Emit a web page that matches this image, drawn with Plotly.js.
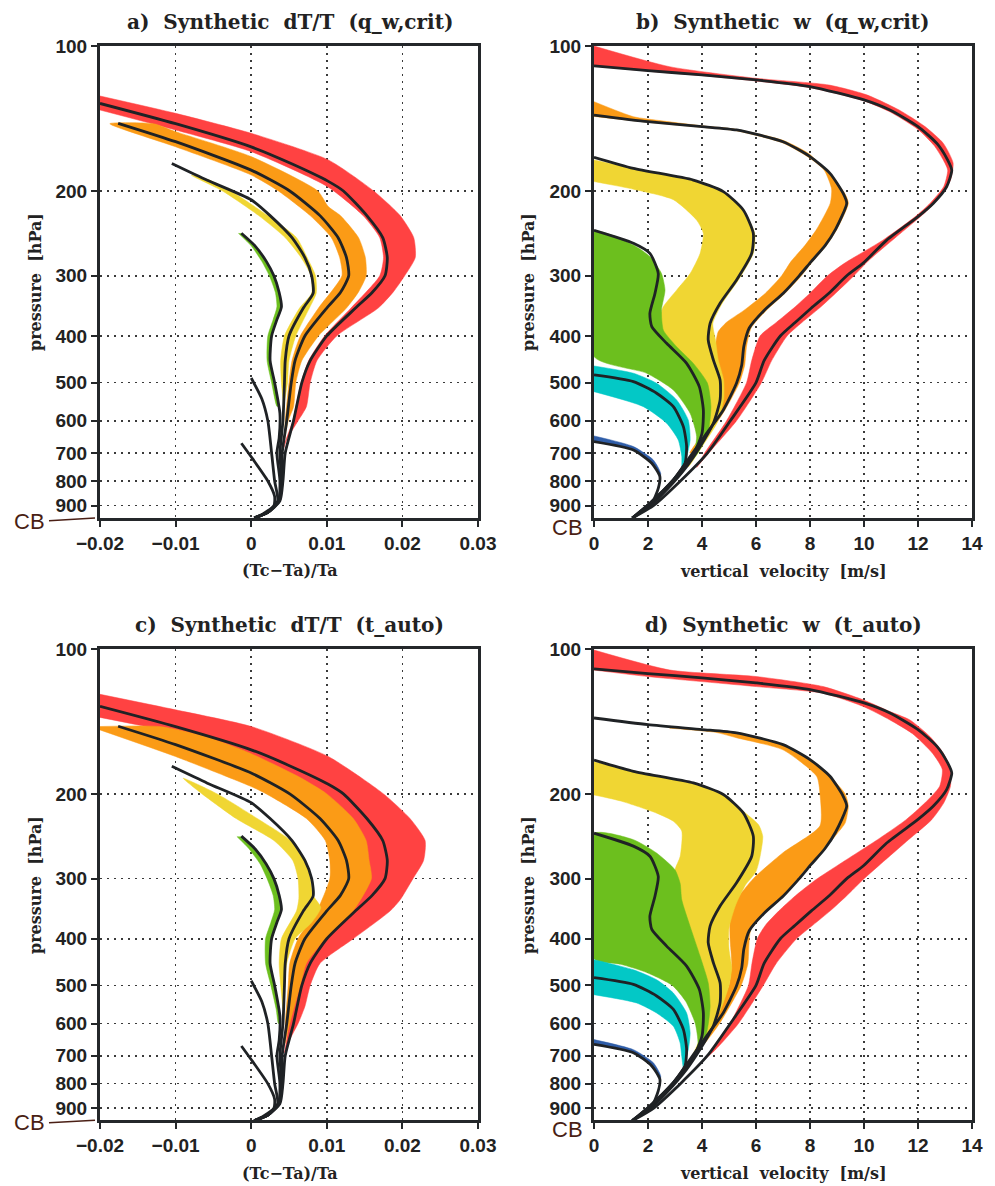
<!DOCTYPE html>
<html>
<head>
<meta charset="utf-8">
<script src="https://cdn.plot.ly/plotly-3.0.1.min.js"></script>
<style>html,body{margin:0;padding:0;background:#fff;}#chart{width:995px;height:1186px;}</style>
</head>
<body>
<div id="chart"></div>
<script>
// ---------- DATA: [pressure hPa, value] pairs ----------
// Axis ticks
const pressureTicks = [100, 200, 300, 400, 500, 600, 700, 800, 900];
const dtTickVals = [-0.02, -0.01, 0, 0.01, 0.02, 0.03];
const dtTickText = ['\u22120.02', '\u22120.01', '0', '0.01', '0.02', '0.03'];
const wTickVals = [0, 2, 4, 6, 8, 10, 12, 14];
const wTickText = ['0', '2', '4', '6', '8', '10', '12', '14'];

// dT/T black lines (panels a and c)
const dtLineRed = [[131.6,-0.020],[145,-0.010],[162,0.000],[176,0.0055],[191,0.0102],[200,0.0122],[225,0.0153],[250,0.0174],[275,0.0180],[300,0.0177],[325,0.0160],[350,0.0138],[400,0.0100],[450,0.0078],[500,0.0067],[600,0.0056],[700,0.0045],[800,0.0042],[880,0.0038],[930,0.0022],[955,0.0004]];
const dtLineOrange = [[144.7,-0.0176],[158,-0.0100],[181,0.0000],[200,0.0051],[225,0.0091],[250,0.0115],[275,0.0126],[300,0.0129],[325,0.0118],[350,0.0100],[400,0.0071],[450,0.0058],[500,0.0053],[600,0.0047],[700,0.0041],[800,0.0041],[880,0.0037],[930,0.0022],[955,0.0004]];
const dtLineYellow = [[175.3,-0.0105],[190,-0.0058],[208.6,0.0000],[225,0.0025],[250,0.0054],[275,0.0071],[300,0.0080],[326,0.0082],[350,0.0069],[400,0.0050],[450,0.0045],[500,0.0044],[600,0.0042],[700,0.0038],[800,0.0040],[880,0.0037],[930,0.0022],[955,0.0004]];
const dtLineGreen = [[244.8,-0.0013],[260,0.0005],[280,0.0020],[300,0.0030],[325,0.0037],[348,0.0040],[370,0.0034],[400,0.0027],[450,0.0025],[500,0.0031],[580,0.0038],[650,0.0037],[700,0.0034],[800,0.0038],[880,0.0036],[930,0.0022],[955,0.0004]];
const dtLineCyan = [[489,0.0000],[540,0.0014],[600,0.0022],[700,0.0027],[800,0.0031],[880,0.0035],[930,0.0022],[955,0.0004]];
const dtLineBlue = [[668,-0.0013],[720,0.0002],[800,0.0022],[862,0.0031],[900,0.0030],[935,0.0016],[955,0.0004]];

// Panel a bands
const aRedOuter = [[127,-0.020],[138,-0.010],[151.8,0.000],[172.4,0.0102],[200,0.0162],[225,0.0197],[250,0.0215],[275,0.0217],[300,0.0203],[324,0.0188],[350,0.0168],[400,0.0113],[450,0.0087],[500,0.0078],[561,0.0073],[600,0.0062],[657,0.0047],[690,0.0042]];
const aRedInner = [[135.8,-0.020],[149.4,-0.010],[165.7,0.000],[195.9,0.0101],[225,0.0148],[250,0.0170],[275,0.0175],[300,0.0170],[350,0.0132],[400,0.0097],[450,0.0076],[500,0.0066],[600,0.0055],[657,0.0046],[690,0.0042]];
const aOrangeOuter = [[145,-0.0187],[145,-0.0129],[150.6,-0.010],[169.7,0.000],[200,0.0088],[215.5,0.0102],[225,0.0118],[250,0.0142],[275,0.0151],[300,0.0152],[324,0.0142],[350,0.0126],[400,0.0089],[450,0.0067],[500,0.0059],[561,0.0056],[600,0.0049],[657,0.0044]];
const aOrangeInner = [[145,-0.0187],[161.9,-0.010],[185.3,0.000],[200,0.0036],[225,0.0078],[250,0.0106],[275,0.0117],[300,0.0120],[350,0.0089],[400,0.0065],[450,0.0054],[500,0.0050],[600,0.0045],[657,0.0044]];
const aYellowOuter = [[185.6,-0.0079],[190,-0.0055],[200,-0.0027],[225,0.0022],[250,0.0060],[275,0.0074],[300,0.0085],[326,0.0086],[350,0.0077],[400,0.0059],[450,0.0050],[500,0.0048],[560,0.0043]];
const aYellowInner = [[185.6,-0.0079],[200,-0.0038],[225,0.0010],[250,0.0045],[275,0.0066],[300,0.0079],[326,0.0080],[350,0.0064],[400,0.0044],[450,0.0039],[500,0.0040],[560,0.0043]];
const aGreenOuter = [[244.8,-0.0017],[260,0.0000],[280,0.0014],[300,0.0024],[325,0.0032],[348,0.0034],[370,0.0029],[400,0.0022],[450,0.0021],[500,0.0027],[560,0.0034]];
const aGreenInner = [[244.8,-0.0013],[260,0.0005],[280,0.0020],[300,0.0030],[325,0.0037],[348,0.0040],[370,0.0034],[400,0.0027],[450,0.0025],[500,0.0031],[560,0.0036]];

// Panel c bands
const cRedOuter = [[124.2,-0.020],[133.8,-0.010],[144.9,0.000],[167.3,0.0102],[200,0.0175],[225,0.0210],[250,0.0230],[275,0.0228],[300,0.0214],[332,0.0197],[350,0.0184],[400,0.0135],[450,0.0091],[500,0.0078],[553,0.0071],[600,0.0062],[648,0.0051],[690,0.0044]];
const cRedInner = [[138.7,-0.020],[147,-0.012],[155,-0.006],[168,0.000],[190,0.0065],[205,0.0100],[230,0.0135],[250,0.0145],[275,0.0150],[300,0.0152],[350,0.0130],[400,0.0093],[450,0.0070],[500,0.0063],[600,0.0050],[648,0.0047],[690,0.0044]];
const cOrangeOuter = [[144.9,-0.020],[144.9,-0.0121],[152,-0.006],[165,0.000],[185,0.0065],[200,0.0100],[225,0.0135],[250,0.0152],[275,0.0156],[300,0.0159],[350,0.0135],[400,0.0098],[450,0.0073],[500,0.0065],[600,0.0051],[660,0.0045]];
const cOrangeInner = [[147.3,-0.020],[167.3,-0.010],[193.1,0.000],[200,0.0020],[225,0.0073],[250,0.0098],[275,0.0104],[300,0.0104],[350,0.0087],[400,0.0062],[450,0.0051],[500,0.0049],[600,0.0045],[660,0.0045]];
const cYellowOuter = [[185.6,-0.0090],[200,-0.0045],[225,0.0008],[250,0.0052],[275,0.0072],[300,0.0078],[325,0.0082],[345,0.0092],[370,0.0080],[400,0.0058],[450,0.0047],[500,0.0044],[560,0.0042]];
const cYellowInner = [[185.6,-0.0090],[200,-0.0065],[225,-0.0020],[250,0.0030],[275,0.0055],[300,0.0062],[330,0.0063],[350,0.0060],[400,0.0040],[450,0.0037],[500,0.0039],[560,0.0042]];
const cGreenOuter = [[245.3,-0.0019],[260,-0.0003],[280,0.0012],[300,0.0021],[325,0.0029],[348,0.0031],[370,0.0026],[400,0.0019],[450,0.0019],[500,0.0026],[560,0.0033],[600,0.0036]];
const cGreenInner = [[245.3,-0.0014],[260,0.0005],[280,0.0020],[300,0.0030],[325,0.0037],[348,0.0040],[370,0.0034],[400,0.0027],[450,0.0025],[500,0.0031],[560,0.0036],[600,0.0038]];

// w black lines (panels b and d), m/s
const wLineRed = [[110,0],[112.5,2],[114.8,4],[117.6,6],[121.4,8],[129.4,10],[135.8,10.96],[147,12],[159.3,12.7],[172.5,13.1],[181,13.25],[196,13.06],[212,12.57],[226,12.0],[253,10.84],[282,9.98],[300,9.36],[326,8.7],[350,8.05],[375,7.45],[400,6.9],[450,6.3],[500,6.0],[600,5.05],[700,4.2],[800,3.2],[900,2.2],[955,1.42]];
const wLineOrange = [[139.1,0],[143.6,2],[147,4],[149.4,5.28],[158,7.0],[169.7,8.0],[183.8,8.74],[202.3,9.23],[212,9.36],[240,8.95],[260,8.55],[280,8.05],[300,7.6],[326,7.01],[354,6.3],[385,5.75],[420,5.55],[460,5.47],[501,5.28],[569.7,4.79],[637,4.17],[712,3.56],[796,2.94],[890,2.07],[955,1.42]];
const wLineYellow = [[170.2,0],[179.5,1.46],[189.8,3.68],[200.6,4.79],[219,5.53],[244.8,5.9],[269.5,5.84],[306,5.28],[342,4.67],[376.5,4.3],[407.6,4.23],[448.5,4.42],[493.6,4.67],[543,4.67],[607,4.42],[678.7,3.93],[747,3.43],[835,2.69],[900,2.1],[955,1.42]];
const wLineGreen = [[241.4,0],[256.8,1.46],[269.5,2.07],[296.8,2.38],[326,2.26],[359,2.07],[382.5,2.14],[414.3,2.69],[455.9,3.43],[509.6,3.9],[569.7,4.05],[637,4.0],[712,3.65],[796,2.94],[890,2.07],[955,1.42]];
const wLineCyan = [[481.9,0],[497.6,1.46],[526,2.32],[560.8,2.94],[617,3.31],[678.7,3.43],[735,3.37],[796,2.94],[869,2.32],[955,1.42]];
const wLineBlue = [[662.9,0],[690,1.46],[735,2.14],[783.5,2.44],[828.6,2.38],[890,2.14],[955,1.42]];

// Panel b bands
const bRedUpper = [[100,0],[110.4,2.8],[116.7,6.0],[120.5,8.7],[126.3,10.1],[135.8,11.3],[147,12.26],[159.3,12.94],[175,13.3],[190,13.2],[206,12.8],[222,12.25],[249,11.2],[278,10.2],[301,9.6],[326,8.95],[350,8.35],[375,7.7],[400,7.15],[450,6.58],[500,6.2],[600,5.28],[700,4.25],[750,3.8]];
const bRedLower = [[110,0],[112.8,2],[115.2,4],[118.2,6],[122,8],[130,10],[137,10.96],[149,12],[161,12.6],[173,12.95],[181,13.1],[196,12.95],[212,12.45],[226,11.9],[253,10.7],[282,9.3],[300,8.65],[326,8.0],[350,7.4],[375,6.75],[400,6.15],[450,5.84],[500,5.65],[600,4.91],[700,4.1],[750,3.8]];
const bOrangeUpper = [[130.5,0],[140.2,1.46],[143,2.5],[146.5,4],[149,5.28],[157,7.0],[168,8.0],[182,8.55],[198,8.8],[212,8.75],[240,8.25],[260,7.8],[280,7.3],[300,6.95],[326,6.35],[354,5.55],[375,4.9],[392,4.6],[420,4.5],[450,4.55],[500,4.7],[570,4.45],[640,4.0],[700,3.55]];
const bOrangeLower = [[140,0],[144,2],[147.5,4],[150,5.28],[159,7.0],[171,8.0],[185,8.74],[202,9.28],[212,9.42],[240,9.0],[260,8.6],[280,8.1],[300,7.68],[326,7.08],[354,6.38],[385,5.82],[420,5.65],[460,5.58],[501,5.38],[570,4.85],[640,4.25],[700,3.6]];
const bYellowUpper = [[172.4,0],[179.5,1.46],[189.8,3.68],[200.6,4.79],[219,5.53],[244.8,5.95],[269.5,5.9],[306,5.35],[342,4.75],[376.5,4.4],[408,4.5],[448,4.6],[494,4.8],[543,4.8],[607,4.55],[679,4.0],[747,3.5]];
const bYellowLower = [[191.2,0],[198.3,1.46],[208.5,2.94],[229.8,3.8],[244.8,4.05],[269.5,3.93],[296.8,3.56],[321.3,3.06],[347.6,2.57],[365,2.45],[390,2.5],[420,2.9],[456,3.5],[500,3.9],[560,4.1],[637,3.95],[700,3.65],[747,3.45]];
const bGreenUpper = [[243,0],[258.9,1.46],[273.7,2.07],[296.8,2.5],[321.3,2.63],[353,2.5],[389,2.57],[421,3.06],[456,3.68],[501,4.2],[561,4.33],[637,4.22],[700,3.85],[740,3.5]];
const bGreenLower = [[243,0],[441.5,0],[478,1.95],[518,2.94],[579,3.56],[647,3.8],[712,3.68],[740,3.5]];
const bCyanUpper = [[461.7,0],[478,1.46],[501.5,2.32],[543,3.06],[597.6,3.49],[657.6,3.56],[712,3.43],[747,3.25]];
const bCyanLower = [[522,0],[560.8,1.83],[607,2.69],[657.6,3.12],[712,3.25],[747,3.25]];
const bBlueUpper = [[645,0],[678.7,1.46],[723.7,2.2],[771,2.47],[808,2.42],[830,2.38]];
const bBlueLower = [[662.9,0],[690,1.46],[735,2.14],[783.5,2.44],[808,2.42],[830,2.38]];

// Panel d bands
const dRedUpper = [[100.5,0],[110.6,2.81],[114.1,6.02],[119.7,8.49],[127.6,9.98],[134.9,10.96],[140.4,11.7],[152,12.44],[164.7,12.94],[178.3,13.2],[193,13.2],[209,12.95],[226.5,12.5],[249,11.65],[274,10.8],[302,9.95],[326,9.35],[350,8.75],[375,8.1],[400,7.5],[450,6.75],[500,6.27],[600,5.35],[680,4.5],[720,4.0]];
const dRedLower = [[110.6,0],[114.1,2.0],[119.7,6.02],[123.6,8.49],[131.7,9.98],[140.4,10.96],[150,11.8],[165,12.55],[178,12.9],[193,12.8],[209,12.25],[226.5,11.55],[249,10.5],[274,9.35],[302,8.2],[326,7.45],[350,6.85],[375,6.35],[400,6.05],[450,5.85],[500,5.72],[600,5.04],[680,4.4],[720,4.0]];
const dOrangeUpper = [[146,2.8],[147.5,4.5],[150,5.3],[158,7.0],[170,8.0],[184,8.74],[200,9.3],[212,9.42],[230,9.3],[242,9.0],[262,8.5],[280,8.0],[302,7.5],[326,7.0],[350,6.4],[385,5.8],[450,5.7],[500,5.45],[600,4.65],[660,4.1],[700,3.7]];
const dOrangeLower = [[146,2.8],[149,4.5],[153,5.3],[162,7.0],[184,8.25],[200,8.37],[233,8.37],[265,7.0],[300,5.9],[330,5.3],[350,5.05],[400,5.04],[450,5.1],[500,5.0],[600,4.3],[660,3.95],[700,3.7]];
const dYellowUpper = [[171.4,0],[179.5,1.46],[189.8,3.68],[200.6,4.79],[219,5.6],[232,6.1],[245,6.25],[270,6.15],[290,6.0],[310,5.6],[340,5.25],[380,5.0],[420,5.0],[460,5.1],[500,5.0],[560,4.7],[620,4.3],[680,3.8],[720,3.5]];
const dYellowLower = [[201,0],[207,1.0],[219.3,2.32],[228,2.94],[238.8,3.25],[269.9,3.19],[287.6,3.0],[320,3.0],[380,3.3],[435,3.7],[494,4.0],[554,4.1],[627,4.0],[689,3.7],[720,3.5]];
const dGreenUpper = [[241.8,0],[249,1.46],[265.5,2.32],[287.6,3.0],[306.8,3.19],[332,3.25],[377,3.56],[435,3.93],[494,4.23],[554,4.3],[627,4.17],[689,3.8],[730,3.4]];
const dGreenLower = [[241.8,0],[440,0],[452,1.0],[470,1.95],[500,2.9],[540,3.4],[600,3.75],[660,3.85],[700,3.7],[730,3.4]];
const dCyanUpper = [[442,0],[464,1.46],[486.7,2.32],[518.6,2.94],[570.6,3.43],[627,3.56],[681,3.49],[740,3.3]];
const dCyanLower = [[522.8,0],[543.9,1.58],[570.6,2.32],[608,2.94],[658.6,3.19],[702,3.25],[740,3.3]];
const dBlueUpper = [[648,0],[680,1.46],[724,2.2],[771,2.47],[808,2.42],[830,2.38]];
const dBlueLower = [[662.9,0],[690,1.46],[735,2.14],[783.5,2.44],[808,2.42],[830,2.38]];

// ---------- STYLE ----------
const COL = {red:'#ff4242', orange:'#fb9b16', yellow:'#f0d633', green:'#6cbf1e', cyan:'#03c8c6', blue:'#2f5da8', line:'#1f2225'};
const A = {x:'x', y:'y'}, B = {x:'x2', y:'y2'}, C = {x:'x3', y:'y3'}, D = {x:'x4', y:'y4'};
const traces = [];

function addBand(e1, e2, color, ax) {
  const poly = e1.concat(e2.slice().reverse());
  traces.push({type:'scatter', mode:'lines', x: poly.map(d => d[1]), y: poly.map(d => d[0]),
    fill:'toself', fillcolor: color, line:{color: color, width:0.5, shape:'spline', smoothing:0.6},
    xaxis: ax.x, yaxis: ax.y, hoverinfo:'skip', showlegend:false});
}
function addLine(arr, ax) {
  traces.push({type:'scatter', mode:'lines', x: arr.map(d => d[1]), y: arr.map(d => d[0]),
    line:{color: COL.line, width:2.8, shape:'spline', smoothing:0.6},
    xaxis: ax.x, yaxis: ax.y, hoverinfo:'skip', showlegend:false});
}

// Panel a
addBand(aRedOuter, aRedInner, COL.red, A);
addBand(aOrangeOuter, aOrangeInner, COL.orange, A);
addBand(aYellowOuter, aYellowInner, COL.yellow, A);
addBand(aGreenOuter, aGreenInner, COL.green, A);
// Panel c
addBand(cRedOuter, cRedInner, COL.red, C);
addBand(cOrangeOuter, cOrangeInner, COL.orange, C);
addBand(cYellowOuter, cYellowInner, COL.yellow, C);
addBand(cGreenOuter, cGreenInner, COL.green, C);
[A, C].forEach(ax => {
  [dtLineBlue, dtLineCyan, dtLineGreen, dtLineYellow, dtLineOrange, dtLineRed].forEach(l => addLine(l, ax));
});
// Panel b
addBand(bRedUpper, bRedLower, COL.red, B);
addBand(bOrangeUpper, bOrangeLower, COL.orange, B);
addBand(bYellowUpper, bYellowLower, COL.yellow, B);
addBand(bGreenUpper, bGreenLower, COL.green, B);
addBand(bCyanUpper, bCyanLower, COL.cyan, B);
addBand(bBlueUpper, bBlueLower, COL.blue, B);
// Panel d
addBand(dRedUpper, dRedLower, COL.red, D);
addBand(dOrangeUpper, dOrangeLower, COL.orange, D);
addBand(dYellowUpper, dYellowLower, COL.yellow, D);
addBand(dGreenUpper, dGreenLower, COL.green, D);
addBand(dCyanUpper, dCyanLower, COL.cyan, D);
addBand(dBlueUpper, dBlueLower, COL.blue, D);
[B, D].forEach(ax => {
  [wLineBlue, wLineCyan, wLineGreen, wLineYellow, wLineOrange, wLineRed].forEach(l => addLine(l, ax));
});

// ---------- LAYOUT ----------
const W = 995, H = 1186;
const px = v => v / W, py = v => 1 - v / H;
const tickFont = {family:'Liberation Sans, Arial, sans-serif', size:19, color:'#222', weight:'bold'};
function xAxis(dom, anchor, dt) {
  return {domain: dom, anchor: anchor, range: dt ? [-0.02, 0.03] : [0, 14],
    tickvals: dt ? dtTickVals : wTickVals, ticktext: dt ? dtTickText : wTickText,
    showgrid:true, gridcolor:'#3a3a3a', gridwidth:1.6, griddash:'2px,5px',
    showline:true, linecolor:'#24272a', linewidth:3, mirror:true,
    ticks:'outside', ticklen:6, tickwidth:2, tickcolor:'#24272a',
    zeroline:false, tickfont: tickFont, fixedrange:true};
}
function yAxis(dom, anchor, bottom) {
  return {domain: dom, anchor: anchor, type:'log', range:[Math.log10(bottom), 2],
    tickvals: pressureTicks, ticktext: pressureTicks.map(String),
    showgrid:true, gridcolor:'#3a3a3a', gridwidth:1.6, griddash:'2px,5px',
    showline:true, linecolor:'#24272a', linewidth:3, mirror:true,
    ticks:'outside', ticklen:6, tickwidth:2, tickcolor:'#24272a',
    zeroline:false, tickfont: tickFont, fixedrange:true};
}
const xL = [px(100), px(478)], xR = [px(594), px(972)];
const yT = [py(518), py(46)], yB = [py(1120), py(649)];

const S = '\u00a0 ';
const titleFont = {family:'DejaVu Serif, serif', size:20, color:'#222'};
const labFont = {family:'DejaVu Serif, serif', size:16, color:'#222'};
const cbFont = {family:'Liberation Sans, Arial, sans-serif', size:22, color:'#4a1f15'};
function ann(x, y, text, font, angle) {
  return {xref:'paper', yref:'paper', x: px(x), y: py(y), text: text, showarrow:false,
    xanchor:'center', yanchor:'middle', font: font, textangle: angle || 0};
}
const annotations = [
  ann(290, 22, '<b>a)' + S + 'Synthetic' + S + 'dT/T' + S + '(q_w,crit)</b>', titleFont),
  ann(783, 22, '<b>b)' + S + 'Synthetic' + S + 'w' + S + '(q_w,crit)</b>', titleFont),
  ann(289, 625, '<b>c)' + S + 'Synthetic' + S + 'dT/T' + S + '(t_auto)</b>', titleFont),
  ann(783, 625, '<b>d)' + S + 'Synthetic' + S + 'w' + S + '(t_auto)</b>', titleFont),
  ann(35, 282, '<b>pressure' + S + '[hPa]</b>', labFont, -90),
  ann(528, 282, '<b>pressure' + S + '[hPa]</b>', labFont, -90),
  ann(35, 885, '<b>pressure' + S + '[hPa]</b>', labFont, -90),
  ann(528, 885, '<b>pressure' + S + '[hPa]</b>', labFont, -90),
  ann(290, 570, '<b>(Tc\u2212Ta)/Ta</b>', labFont),
  ann(783, 571, '<b>vertical' + S + 'velocity' + S + '[m/s]</b>', labFont),
  ann(290, 1173, '<b>(Tc\u2212Ta)/Ta</b>', labFont),
  ann(783, 1173, '<b>vertical' + S + 'velocity' + S + '[m/s]</b>', labFont),
  ann(29, 521, 'CB', cbFont),
  ann(567, 527, 'CB', cbFont),
  ann(29, 1122, 'CB', cbFont),
  ann(567, 1129, 'CB', cbFont)
];
const shapes = [
  {type:'line', xref:'paper', yref:'paper', x0: px(49), y0: py(520.7), x1: px(95), y1: py(518), line:{color:'#4a1f15', width:1.5}},
  {type:'line', xref:'paper', yref:'paper', x0: px(49), y0: py(1122.7), x1: px(95), y1: py(1120.3), line:{color:'#4a1f15', width:1.5}}
];

const layout = {
  width: W, height: H, margin:{l:0, r:0, t:0, b:0},
  paper_bgcolor:'#ffffff', plot_bgcolor:'#ffffff', showlegend:false,
  xaxis: xAxis(xL, 'y', true), yaxis: yAxis(yT, 'x', 955),
  xaxis2: xAxis(xR, 'y2', false), yaxis2: yAxis(yT, 'x2', 955),
  xaxis3: xAxis(xL, 'y3', true), yaxis3: yAxis(yB, 'x3', 952),
  xaxis4: xAxis(xR, 'y4', false), yaxis4: yAxis(yB, 'x4', 952),
  annotations: annotations, shapes: shapes
};
Plotly.newPlot('chart', traces, layout, {displayModeBar:false, staticPlot:true});
</script>
</body>
</html>
